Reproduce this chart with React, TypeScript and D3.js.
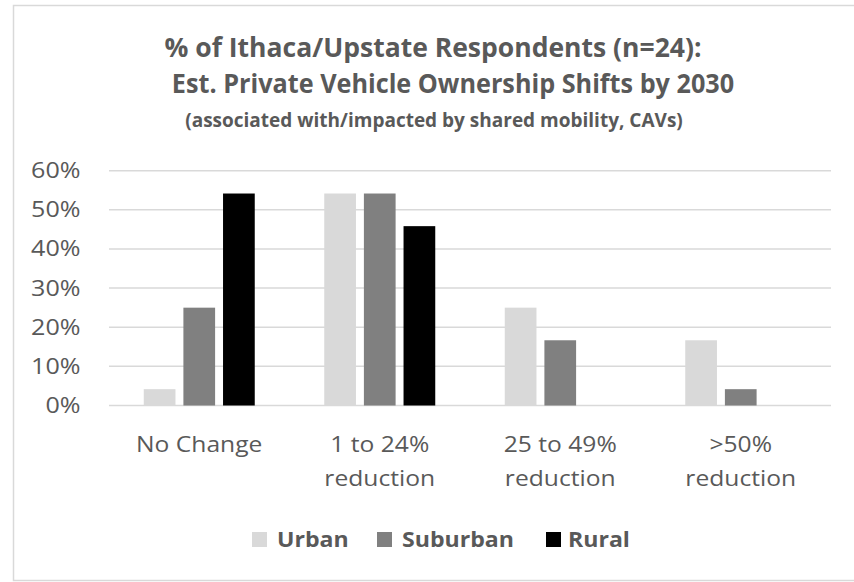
import React from "react";
import * as d3 from "d3";

const categories = [["No Change"], ["1 to 24%", "reduction"], ["25 to 49%", "reduction"], [">50%", "reduction"]];
const seriesNames = ["Urban", "Suburban", "Rural"];
const urban = [0.0417, 0.5417, 0.25, 0.1667];
const suburban = [0.25, 0.5417, 0.1667, 0.0417];
const rural = [0.5417, 0.4583, 0, 0];
const yTicks = [0, 0.1, 0.2, 0.3, 0.4, 0.5, 0.6];
const titleLines = [
  "% of Ithaca/Upstate Respondents (n=24):",
  "Est. Private Vehicle Ownership Shifts by 2030",
];
const subtitle = "(associated with/impacted by shared mobility, CAVs)";

const colors = ["#d9d9d9", "#808080", "#000000"];
const textColor = "#595959";
const font = "'Open Sans', 'Noto Sans', sans-serif";

export default function App() {
  const W = 854, H = 582;
  const left = 109, right = 831, top = 170.7, bottom = 405.5;
  const series = [urban, suburban, rural];
  const x0 = d3.scaleBand<number>().domain(d3.range(categories.length)).range([left, right]).paddingInner(0).paddingOuter(0);
  const groupW = 111;
  const x1 = d3.scaleBand<number>().domain([0, 1, 2]).range([0, groupW]).paddingInner(0.2).paddingOuter(0);
  const y = d3.scaleLinear().domain([0, 0.6]).range([bottom, top]);
  const fmt = d3.format(".0%");

  const legendItems = [
    { sq: 252, tx: 277 },
    { sq: 377, tx: 402 },
    { sq: 546, tx: 568 },
  ];

  return (
    <svg width={W} height={H} style={{ position: "absolute", left: 0, top: 0 }} fontFamily={font}>
      <rect x={0} y={0} width={W} height={H} fill="#fff" />
      <rect x={13.5} y={5.5} width={W + 10} height={575} fill="#fff" stroke="#d9d9d9" strokeWidth={1.5} />
      {/* title */}
      <g fill={textColor} fontWeight={700} textAnchor="middle">
        <g transform="translate(433,57) scale(1.02,1)">
          <text fontSize={26}>{titleLines[0]}</text>
        </g>
        <g transform="translate(453,93) scale(0.97,1)">
          <text fontSize={26}>{titleLines[1]}</text>
        </g>
        <text x={434} y={126.5} fontSize={19}>{subtitle}</text>
      </g>
      {/* gridlines */}
      {yTicks.map((t) => (
        <line key={t} x1={left} x2={right} y1={y(t)} y2={y(t)} stroke="#d9d9d9" strokeWidth={1.5} />
      ))}
      {/* y tick labels */}
      {yTicks.map((t) => (
        <g key={"l" + t} transform={`translate(80.5,${y(t) + 7.5}) scale(1.14,1)`}>
          <text fontSize={22} fill={textColor} textAnchor="end">{fmt(t)}</text>
        </g>
      ))}
      {/* bars */}
      {categories.map((c, i) => {
        const cx = (x0(i) as number) + x0.bandwidth() / 2;
        const gx = cx - groupW / 2;
        return series.map((s, j) =>
          s[i] > 0 ? (
            <rect
              key={i + "-" + j}
              x={gx + (x1(j) as number)}
              width={x1.bandwidth()}
              y={y(s[i])}
              height={bottom - y(s[i])}
              fill={colors[j]}
            />
          ) : null
        );
      })}
      {/* category labels */}
      {categories.map((c, i) => {
        const cx = (x0(i) as number) + x0.bandwidth() / 2;
        return c.map((line, k) => (
          <g key={"c" + i + k} transform={`translate(${cx},${452 + k * 33.5}) scale(1.12,1)`}>
            <text fontSize={22} fill={textColor} textAnchor="middle">{line}</text>
          </g>
        ));
      })}
      {/* legend */}
      {seriesNames.map((n, j) => (
        <g key={n}>
          <rect x={legendItems[j].sq} y={532} width={15} height={15} fill={colors[j]} />
          <g transform={`translate(${legendItems[j].tx},547) scale(1.1,1)`}>
            <text fontSize={21} fontWeight={700} fill={textColor}>{n}</text>
          </g>
        </g>
      ))}
    </svg>
  );
}
